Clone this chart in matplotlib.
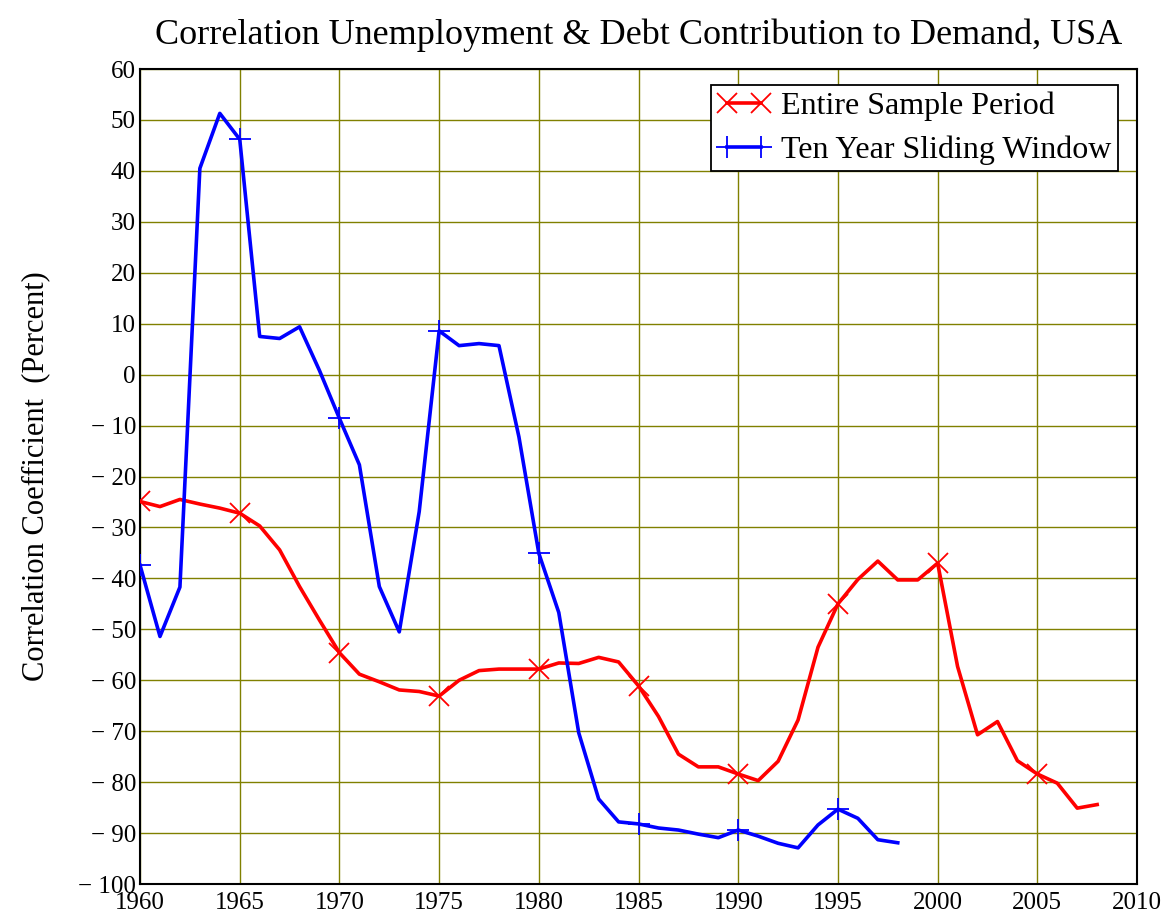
import numpy as np
import matplotlib
matplotlib.use("Agg")
import matplotlib.pyplot as plt
from matplotlib.ticker import FuncFormatter

plt.rcParams['font.family'] = ['Liberation Serif', 'DejaVu Serif']

# entire sample period correlation, 1960-2008
entire_years = list(range(1960, 2009))
entire_vals = [-24.9, -25.9, -24.5, -25.4, -26.2, -27.2, -29.7, -34.4, -41.6, -48.2,
               -54.6, -58.8, -60.3, -61.9, -62.2, -63.1, -60.0, -58.1, -57.8, -57.8,
               -57.8, -56.6, -56.7, -55.5, -56.4, -61.1, -67.1, -74.5, -77.0, -77.0,
               -78.4, -79.7, -75.9, -67.8, -53.5, -45.0, -40.2, -36.6, -40.3, -40.3,
               -37.0, -57.3, -70.7, -68.1, -75.8, -78.4, -80.2, -85.1, -84.4]

# ten year sliding window correlation, 1960-1998
window_years = list(range(1960, 1999))
window_vals = [-37.4, -51.4, -41.7, 40.5, 51.3, 46.2, 7.5, 7.1, 9.4, 0.8,
               -8.6, -17.7, -41.6, -50.5, -26.9, 8.6, 5.7, 6.1, 5.7, -12.2,
               -35.1, -46.7, -70.3, -83.3, -87.8, -88.2, -89.0, -89.4, -90.2, -90.9,
               -89.4, -90.6, -92.0, -92.9, -88.4, -85.3, -87.1, -91.3, -91.9]

def fmt(v, pos):
    v = int(round(v))
    if v < 0:
        return "\u2212 " + str(-v)
    return str(v)

fig = plt.figure(figsize=(11.68, 9.18), dpi=100)
ax = fig.add_axes([0.1199, 0.037, 0.8536, 0.8878])

ax.plot(entire_years, entire_vals, color="red", lw=2.6, marker="x", markevery=5,
        markersize=14, markeredgewidth=1.3, label="Entire Sample Period", zorder=3)
ax.plot(window_years, window_vals, color="blue", lw=2.6, marker="+", markevery=5,
        markersize=16, markeredgewidth=1.3, label="Ten Year Sliding Window", zorder=3)

ax.set_xlim(1960, 2010)
ax.set_ylim(-100, 60)
ax.set_xticks(range(1960, 2011, 5))
ax.set_yticks(range(-100, 61, 10))
ax.yaxis.set_major_formatter(FuncFormatter(fmt))
ax.tick_params(length=0, labelsize=18)
ax.tick_params(axis="x", pad=6)
ax.tick_params(axis="y", pad=3)
ax.grid(True, color="#808000", lw=1.0)
ax.set_axisbelow(True)
for s in ax.spines.values():
    s.set_linewidth(1.5)
    s.set_color("black")

ax.set_ylabel("Correlation Coefficient  (Percent)", fontsize=22, labelpad=20)
ax.set_title("Correlation Unemployment & Debt Contribution to Demand, USA",
             fontsize=26, pad=18)

leg = ax.legend(loc="upper right", bbox_to_anchor=(0.981, 0.98), fontsize=23,
                numpoints=2, handlelength=1.65, handletextpad=0.35, borderpad=0.2,
                labelspacing=0.45, borderaxespad=0, fancybox=False, framealpha=1)
leg.get_frame().set_edgecolor("black")
leg.get_frame().set_linewidth(1.3)

fig.savefig("out.png", dpi=100)
